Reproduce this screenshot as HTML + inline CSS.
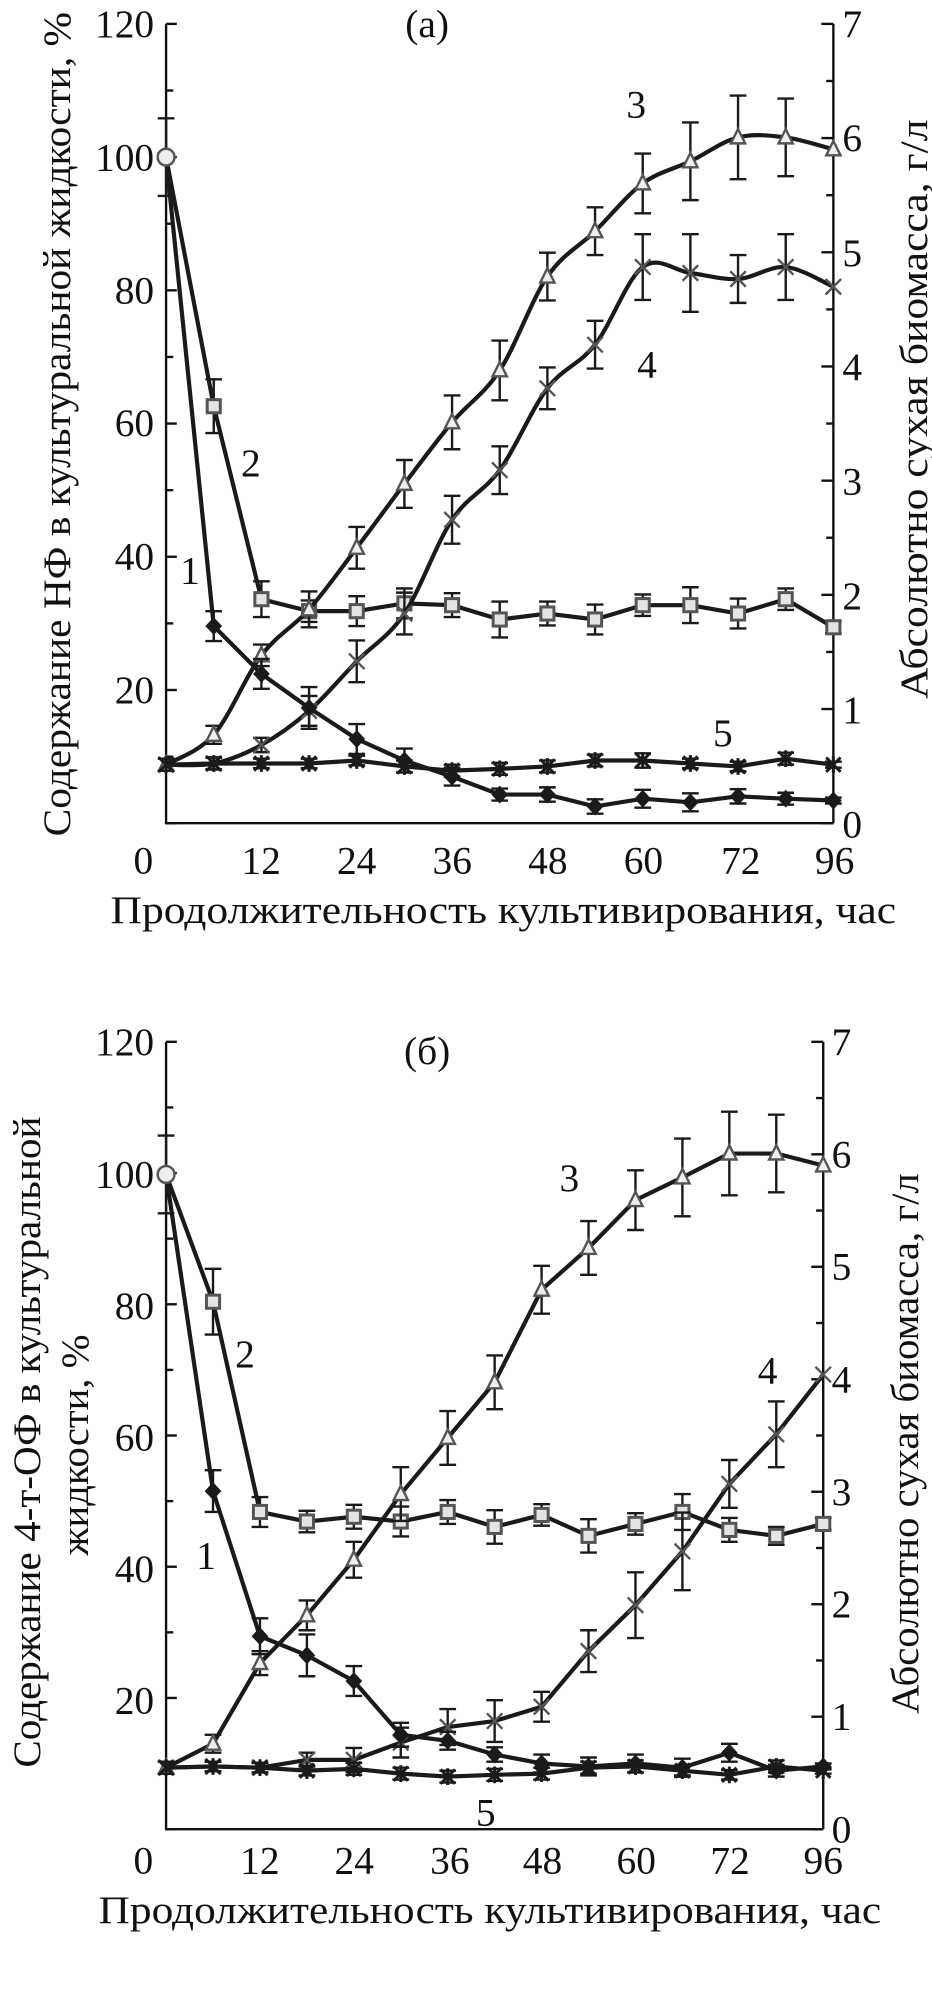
<!DOCTYPE html>
<html><head><meta charset="utf-8"><style>
html,body{margin:0;padding:0;background:#fff;width:932px;height:1996px;overflow:hidden}
text{font-family:"Liberation Serif",serif;fill:#111}
</style></head><body>
<svg id="s" width="932" height="1996" xmlns="http://www.w3.org/2000/svg">
<g id="ga" transform="scale(0.5974)">
<text x="715" y="62" font-size="66" text-anchor="middle">(а)</text>
<text x="1065" y="197" font-size="66" text-anchor="middle">3</text>
<text x="1083" y="632" font-size="66" text-anchor="middle">4</text>
<text x="420" y="797" font-size="66" text-anchor="middle">2</text>
<text x="318" y="977" font-size="66" text-anchor="middle">1</text>
<text x="1210" y="1249" font-size="66" text-anchor="middle">5</text>
<g font-size="66" text-anchor="end">
<text x="258" y="62">120</text><text x="258" y="285">100</text><text x="258" y="508">80</text><text x="258" y="730">60</text><text x="258" y="953">40</text><text x="258" y="1177">20</text></g>
<g font-size="66" text-anchor="start">
<text x="1410" y="62">7</text><text x="1410" y="253">6</text><text x="1410" y="445">5</text><text x="1410" y="636">4</text><text x="1410" y="828">3</text><text x="1410" y="1019">2</text><text x="1410" y="1210">1</text><text x="1410" y="1402">0</text></g>
<g font-size="66" text-anchor="middle">
<text x="240" y="1462">0</text><text x="437" y="1462">12</text><text x="597" y="1462">24</text><text x="757" y="1462">36</text><text x="917" y="1462">48</text><text x="1077" y="1462">60</text><text x="1240" y="1462">72</text><text x="1397" y="1462">96</text></g>
<text x="185" y="1545" font-size="66" textLength="1315" lengthAdjust="spacingAndGlyphs">Продолжительность культивирования, час</text>
<text transform="translate(117,1400) rotate(-90)" font-size="66" textLength="1380" lengthAdjust="spacingAndGlyphs">Содержание НФ в культуральной жидкости, %</text>
<text transform="translate(1552,1170) rotate(-90)" font-size="66" textLength="970" lengthAdjust="spacingAndGlyphs">Абсолютно сухая биомасса, г/л</text>
</g>
<g id="gb" transform="translate(0,1000) scale(0.5974)">
<text x="715" y="107" font-size="66" text-anchor="middle">(б)</text>
<text x="953" y="320" font-size="66" text-anchor="middle">3</text>
<text x="410" y="614" font-size="66" text-anchor="middle">2</text>
<text x="1285" y="642" font-size="66" text-anchor="middle">4</text>
<text x="345" y="952" font-size="66" text-anchor="middle">1</text>
<text x="813" y="1382" font-size="66" text-anchor="middle">5</text>
<g font-size="66" text-anchor="end">
<text x="258" y="92">120</text><text x="258" y="314">100</text><text x="258" y="534">80</text><text x="258" y="754">60</text><text x="258" y="974">40</text><text x="258" y="1194">20</text></g>
<g font-size="66" text-anchor="start">
<text x="1392" y="92">7</text><text x="1392" y="280">6</text><text x="1392" y="468">5</text><text x="1392" y="657">4</text><text x="1392" y="845">3</text><text x="1392" y="1033">2</text><text x="1392" y="1221">1</text><text x="1392" y="1410">0</text></g>
<g font-size="66" text-anchor="middle">
<text x="240" y="1462">0</text><text x="435" y="1462">12</text><text x="593" y="1462">24</text><text x="753" y="1462">36</text><text x="908" y="1462">48</text><text x="1065" y="1462">60</text><text x="1222" y="1462">72</text><text x="1378" y="1462">96</text></g>
<text x="165" y="1545" font-size="66" textLength="1310" lengthAdjust="spacingAndGlyphs">Продолжительность культивирования, час</text>
<text transform="translate(67,1285) rotate(-90)" font-size="66" textLength="1090" lengthAdjust="spacingAndGlyphs">Содержание 4-т-ОФ в культуральной</text>
<text transform="translate(147,930) rotate(-90)" font-size="66" textLength="370" lengthAdjust="spacingAndGlyphs">жидкости, %</text>
<text transform="translate(1537,1195) rotate(-90)" font-size="66" textLength="905" lengthAdjust="spacingAndGlyphs">Абсолютно сухая биомасса, г/л</text>
</g>
</svg>
<script>
var NS="http://www.w3.org/2000/svg";
function el(g,t,a){var e=document.createElementNS(NS,t);for(var k in a)e.setAttribute(k,a[k]);g.appendChild(e);return e;}
function smooth(p){var d="M"+p[0][0]+","+p[0][1];for(var i=0;i<p.length-1;i++){var p0=p[i-1]||p[i],p1=p[i],p2=p[i+1],p3=p[i+2]||p2;var t=0.5/3;d+=" C"+(p1[0]+(p2[0]-p0[0])*t)+","+(p1[1]+(p2[1]-p0[1])*t)+" "+(p2[0]-(p3[0]-p1[0])*t)+","+(p2[1]-(p3[1]-p1[1])*t)+" "+p2[0]+","+p2[1];}return d;}
function lin(p){return "M"+p.map(function(q){return q[0]+","+q[1]}).join(" L");}
function marker(g,type,x,y){var c="#1a1a1a";
 if(type==1)el(g,"path",{d:"M"+x+","+(y-15)+" L"+(x+14)+","+y+" L"+x+","+(y+15)+" L"+(x-14)+","+y+"Z",fill:c});
 if(type==2)el(g,"rect",{x:x-11,y:y-11,width:22,height:22,fill:"#e4e4e4",stroke:"#555","stroke-width":5});
 if(type==3)el(g,"path",{d:"M"+x+","+(y-14)+" L"+(x+12)+","+(y+10)+" L"+(x-12)+","+(y+10)+"Z",fill:"#eee",stroke:"#555","stroke-width":4});
 if(type==4)el(g,"path",{d:"M"+(x-13)+","+(y-13)+" L"+(x+13)+","+(y+13)+" M"+(x+13)+","+(y-13)+" L"+(x-13)+","+(y+13),stroke:"#555","stroke-width":4});
 if(type==5)el(g,"path",{d:"M"+(x-12)+","+(y-12)+" L"+(x+12)+","+(y+12)+" M"+(x+12)+","+(y-12)+" L"+(x-12)+","+(y+12)+" M"+x+","+(y-14)+" L"+x+","+(y+14),stroke:c,"stroke-width":5});
 if(type==6)el(g,"circle",{cx:x,cy:y,r:14,fill:"#eee",stroke:"#555","stroke-width":4});
}
function chart(g,C){
 el(g,"path",{d:"M"+C.xl+","+C.yt+" L"+C.xl+","+C.yb+" L"+C.xr+","+C.yb+" M"+C.xr+","+C.yt+" L"+C.xr+","+C.yb,stroke:"#111","stroke-width":4,fill:"none"});
 var ph=(C.yb-C.yt)/12;
 for(var i=0;i<=12;i++){var y=C.yt+i*ph;el(g,"line",{x1:C.xl,x2:C.xl+(i%2?12:18),y1:y,y2:y,stroke:"#111","stroke-width":4});}
 var rh=(C.yb-C.yt)/14;
 for(var i=0;i<=14;i++){var y=C.yt+i*rh;el(g,"line",{x1:C.xr,x2:C.xr-(i%2?12:20),y1:y,y2:y,stroke:"#111","stroke-width":4});}
 var xs=[];for(var i=0;i<15;i++)xs.push(C.xl+(C.xr-C.xl)*i/14);
 C.S.forEach(function(s){
  var pts=s.y.map(function(v,i){return [xs[i],v]});
  el(g,"path",{d:s.sm?smooth(pts):lin(pts),fill:"none",stroke:"#1a1a1a","stroke-width":7,"stroke-linejoin":"round"});
  pts.forEach(function(p,i){var e=s.e[i];if(e>0){el(g,"path",{d:"M"+p[0]+","+(p[1]-e)+" L"+p[0]+","+(p[1]+e)+" M"+(p[0]-14)+","+(p[1]-e)+" L"+(p[0]+14)+","+(p[1]-e)+" M"+(p[0]-14)+","+(p[1]+e)+" L"+(p[0]+14)+","+(p[1]+e),stroke:"#1a1a1a","stroke-width":4,fill:"none"});}});
  pts.forEach(function(p,i){marker(g,(i==0&&s.y[0]<400)?6:s.t,p[0],p[1]);});
 });
}
chart(document.getElementById("ga"),{xl:278,xr:1395,yt:40,yb:1378,S:[
 {t:2,y:[263,680,1003,1023,1023,1010,1013,1037,1027,1037,1013,1013,1027,1003,1050],e:[65,45,30,18,25,25,20,30,20,25,18,30,25,18,10]},
 {t:3,sm:1,y:[1280,1230,1097,1020,917,810,707,620,463,387,307,270,230,230,250],e:[0,15,18,30,35,40,45,50,40,40,50,65,70,65,0]},
 {t:4,sm:1,y:[1280,1278,1247,1190,1107,1027,870,787,650,577,447,457,467,447,480],e:[0,10,12,25,35,35,40,40,35,40,55,65,40,55,0]},
 {t:5,y:[1280,1278,1278,1278,1273,1283,1290,1287,1283,1273,1273,1278,1283,1270,1280],e:[10,10,8,8,8,10,10,10,10,10,12,8,8,10,5]},
 {t:1,y:[263,1048,1128,1185,1237,1273,1300,1330,1330,1350,1337,1343,1333,1337,1340],e:[0,25,25,35,25,20,15,10,12,12,15,15,12,10,5]}
]});
chart(document.getElementById("gb"),{xl:278,xr:1378,yt:70,yb:1388,S:[
 {t:2,y:[292,505,857,873,865,873,857,882,862,897,877,857,887,897,877],e:[65,55,25,18,20,25,20,28,18,28,18,30,20,15,10]},
 {t:3,y:[1285,1245,1110,1030,937,827,733,640,485,415,335,297,257,257,277],e:[0,15,20,25,30,45,45,45,40,45,50,65,70,65,0]},
 {t:4,y:[1285,1283,1285,1272,1272,1243,1217,1207,1183,1090,1013,923,810,727,627],e:[0,8,8,12,20,25,30,35,25,35,55,65,40,55,0]},
 {t:5,y:[1285,1283,1285,1290,1287,1295,1300,1297,1295,1285,1283,1290,1297,1283,1290],e:[10,8,8,8,10,10,10,10,10,10,10,8,8,10,5]},
 {t:1,y:[292,822,1065,1097,1140,1230,1240,1263,1278,1283,1278,1285,1260,1290,1283],e:[0,35,30,35,25,20,15,12,15,15,15,15,15,10,5]}
]});
</script>
</body></html>
